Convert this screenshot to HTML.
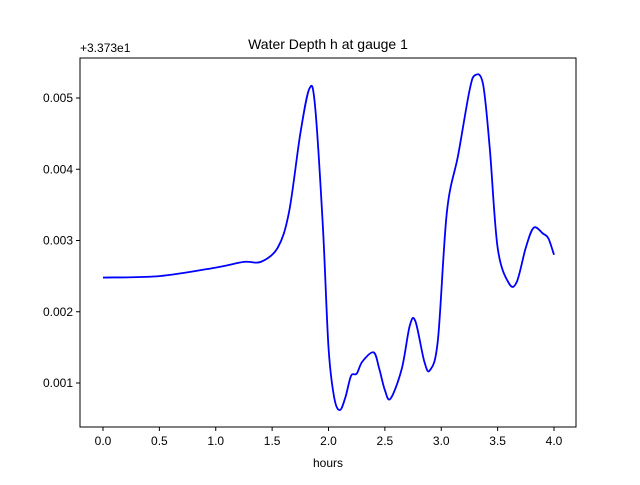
<!DOCTYPE html>
<html><head><meta charset="utf-8"><style>
body{margin:0;background:#fff;}
svg text{font-family:"Liberation Sans","DejaVu Sans",sans-serif;}
</style></head><body>
<svg width="640" height="480" xmlns="http://www.w3.org/2000/svg">
<rect width="640" height="480" fill="#fff"/>
<g id="plot"></g>
</svg>
<script>
const hours=[0.0,0.5,1.0,1.25,1.4,1.55,1.65,1.75,1.83,1.88,1.95,2.0,2.05,2.1,2.15,2.2,2.25,2.3,2.4,2.45,2.5,2.55,2.65,2.72,2.77,2.85,2.9,2.97,3.05,3.15,3.25,3.3,3.37,3.43,3.5,3.6,3.67,3.75,3.82,3.9,3.95,4.0];
const depth=[0.00248,0.0025,0.00262,0.0027,0.0027,0.0029,0.0034,0.0045,0.00513,0.0049,0.0032,0.0015,0.0008,0.00062,0.0008,0.0011,0.00113,0.0013,0.00143,0.0012,0.0009,0.00078,0.0012,0.0018,0.00187,0.0013,0.00118,0.0016,0.0034,0.0042,0.0051,0.00532,0.0052,0.0043,0.0029,0.0024,0.00242,0.0029,0.00318,0.0031,0.00303,0.0028];
const xTicks=[0.0,0.5,1.0,1.5,2.0,2.5,3.0,3.5,4.0];
const yTicks=[0.001,0.002,0.003,0.004,0.005];
const L=80,R=576,T=58,B=427;
const X=v=>103+v*112.75;
const Y=v=>383-(v-0.001)*71250;
const g=document.getElementById('plot');
const NS='http://www.w3.org/2000/svg';
function mk(tag,attrs,txt){const e=document.createElementNS(NS,tag);for(const k in attrs)e.setAttribute(k,attrs[k]);if(txt!==undefined)e.textContent=txt;g.appendChild(e);return e;}
// line
const px=hours.map(X),py=depth.map(Y);
let d='M'+px[0]+','+py[0];
for(let i=0;i<px.length-1;i++){
 const p0=i?i-1:i,p3=i+2<px.length?i+2:i+1;
 const c1x=px[i]+(px[i+1]-px[p0])/6,c1y=py[i]+(py[i+1]-py[p0])/6;
 const c2x=px[i+1]-(px[p3]-px[i])/6,c2y=py[i+1]-(py[p3]-py[i])/6;
 d+=` C${c1x},${c1y} ${c2x},${c2y} ${px[i+1]},${py[i+1]}`;
}
let e=mk('path',{d:d,fill:'none',stroke:'#0000ff','stroke-width':1.8});


e=mk('rect',{x:L,y:T,width:R-L,height:B-T,fill:'none',stroke:'#000','stroke-width':1});


xTicks.forEach(t=>{
 mk('line',{x1:X(t),x2:X(t),y1:B,y2:B+4,stroke:'#000'});
 e=mk('text',{x:X(t),y:B+18,'font-size':12,'text-anchor':'middle'},t.toFixed(1));
 
 
});
yTicks.forEach(t=>{
 mk('line',{x1:L-4,x2:L,y1:Y(t),y2:Y(t),stroke:'#000'});
 e=mk('text',{x:L-7,y:Y(t)+4,'font-size':12,'text-anchor':'end'},t.toFixed(3));
 
 
});
e=mk('text',{x:80,y:52,'font-size':12},'+3.373e1');


e=mk('text',{x:328,y:49,'font-size':14,'text-anchor':'middle'},'Water Depth h at gauge 1');


e=mk('text',{x:328,y:467,'font-size':12,'text-anchor':'middle'},'hours');


</script>
</body></html>
